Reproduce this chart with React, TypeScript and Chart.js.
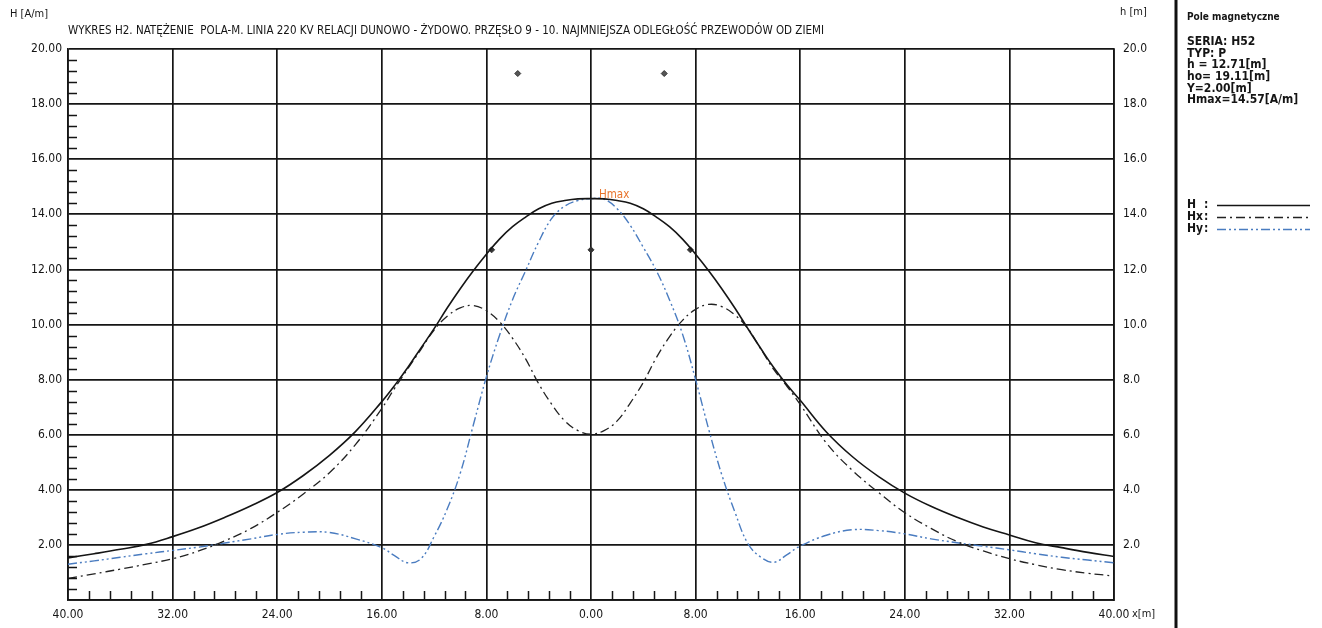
import React, { useEffect, useRef } from "react";
import { Chart, registerables } from "chart.js";
Chart.register(...registerables);

const FONT = "'Liberation Sans Narrow', 'DejaVu Sans Condensed', 'Arial Narrow', sans-serif";

// x positions [m]
const XS = [-40, -38, -36, -34, -32, -30, -28, -26, -24, -22, -20, -18,
  -16, -15, -14, -13, -12, -11, -10, -9, -8, -7, -6, -5, -4, -3, -2, -1, 0,
  1, 2, 3, 4, 5, 6, 7, 8, 9, 10, 11, 12, 13, 14, 15, 16,
  18, 20, 22, 24, 26, 28, 30, 32, 34, 36, 38, 40];

// H [A/m]
const H = [1.53, 1.68, 1.84, 2.02, 2.3, 2.62, 3.0, 3.42, 3.9, 4.52, 5.25, 6.12,
  7.2, 7.8, 8.45, 9.15, 9.85, 10.6, 11.3, 11.95, 12.55, 13.1, 13.55, 13.9, 14.2, 14.4, 14.5, 14.56, 14.57,
  14.56, 14.5, 14.4, 14.2, 13.9, 13.55, 13.1, 12.55, 11.95, 11.3, 10.6, 9.85, 9.12, 8.42, 7.8, 7.25,
  6.1, 5.2, 4.48, 3.88, 3.4, 3.0, 2.65, 2.36, 2.08, 1.9, 1.73, 1.58];

// Hx [A/m]
const HX = [0.78, 0.95, 1.12, 1.3, 1.5, 1.78, 2.15, 2.6, 3.18, 3.85, 4.62, 5.65,
  6.95, 7.7, 8.4, 9.1, 9.8, 10.3, 10.6, 10.69, 10.5, 10.1, 9.5, 8.75, 7.85, 7.1, 6.5, 6.15, 6.02,
  6.15, 6.5, 7.15, 7.9, 8.8, 9.55, 10.15, 10.55, 10.73, 10.65, 10.35, 9.85, 9.1, 8.35, 7.75, 7.1,
  5.7, 4.7, 3.9, 3.17, 2.6, 2.12, 1.78, 1.5, 1.28, 1.1, 0.97, 0.87];

// Hy [A/m]
const HY = [1.3, 1.42, 1.55, 1.68, 1.8, 1.92, 2.07, 2.22, 2.38, 2.46, 2.45, 2.22,
  1.9, 1.6, 1.35, 1.5, 2.3, 3.3, 4.6, 6.35, 8.1, 9.6, 10.9, 11.95, 13.0, 13.85, 14.3, 14.5, 14.57,
  14.55, 14.2, 13.6, 12.8, 11.95, 10.9, 9.65, 8.0, 6.2, 4.55, 3.2, 2.05, 1.55, 1.37, 1.65, 1.96,
  2.35, 2.55, 2.52, 2.4, 2.22, 2.08, 1.95, 1.82, 1.68, 1.55, 1.45, 1.35];

// conductor positions (x [m], h [m])
const COND_X = [-7.6, 0, 7.6];
const COND_H = [12.71, 12.71, 12.71];
const GW_X = [-5.6, 5.6];
const GW_H = [19.11, 19.11];

const HMAX_X = 0;
const HMAX = 14.57;

const TITLE = "WYKRES H2. NATĘŻENIE  POLA-M. LINIA 220 KV RELACJI DUNOWO - ŻYDOWO. PRZĘSŁO 9 - 10. NAJMNIEJSZA ODLEGŁOŚĆ PRZEWODÓW OD ZIEMI";
const INFO_HEAD = "Pole magnetyczne";
const INFO_LINES = ["SERIA: H52", "TYP: P", "h = 12.71[m]", "ho= 19.11[m]", "Y=2.00[m]", "Hmax=14.57[A/m]"];
const LEGEND_NAMES = ["H", "Hx", "Hy"];

const X_TICKS_MIN = -40;
const X_TICKS_MAX = 40;

const DASH_HX = [9, 4, 2, 4];
const DASH_HY = [9, 3, 2, 3, 2, 3];
const BLUE = "#4a7cc0";
const INK = "#151515";

function fitText(ctx: CanvasRenderingContext2D, text: string, x: number, y: number, w: number) {
  const m = ctx.measureText(text).width;
  ctx.save();
  ctx.translate(x, y);
  ctx.scale(w / m, 1);
  ctx.fillText(text, 0, 0);
  ctx.restore();
}

const decorPlugin = {
  id: "decor",
  afterDraw(chart: any) {
    const ctx: CanvasRenderingContext2D = chart.ctx;
    const { left, right, bottom } = chart.chartArea;
    const xs = chart.scales.x;
    const ys = chart.scales.y;
    ctx.save();
    // minor ticks
    ctx.strokeStyle = INK;
    ctx.lineWidth = 1.5;
    ctx.beginPath();
    for (let i = 0; i <= 50; i++) {
      if (i % 5 === 0) continue;
      const py = Math.round(ys.getPixelForValue(i * 0.4)) + 0.5;
      ctx.moveTo(left, py);
      ctx.lineTo(left + 9, py);
    }
    for (let i = 0; i <= 50; i++) {
      if (i % 5 === 0) continue;
      const px = Math.round(xs.getPixelForValue(-40 + i * 1.6)) + 0.5;
      ctx.moveTo(px, bottom);
      ctx.lineTo(px, bottom - 9);
    }
    ctx.stroke();

    // Hmax label
    ctx.fillStyle = "#e8742c";
    ctx.font = `11.5px ${FONT}`;
    ctx.textBaseline = "alphabetic";
    ctx.textAlign = "left";
    ctx.fillText("Hmax", xs.getPixelForValue(HMAX_X) + 8, ys.getPixelForValue(HMAX) - 1);

    // texts
    ctx.fillStyle = INK;
    ctx.font = `11px ${FONT}`;
    ctx.textBaseline = "middle";
    ctx.fillText("H [A/m]", 10, 14);
    ctx.fillText("h [m]", right + 6, 12);
    ctx.fillText("x[m]", right + 18, 614);
    ctx.font = `11.5px ${FONT}`;
    fitText(ctx, TITLE, 68, 31, 756);

    // separator
    ctx.strokeStyle = "#111";
    ctx.lineWidth = 3;
    ctx.beginPath();
    ctx.moveTo(1176, 0);
    ctx.lineTo(1176, 628);
    ctx.stroke();

    // info panel
    ctx.fillStyle = INK;
    ctx.font = `bold 10px ${FONT}`;
    ctx.fillText(INFO_HEAD, 1187, 17);
    ctx.font = `bold 12px ${FONT}`;
    INFO_LINES.forEach((t, i) => ctx.fillText(t, 1187, 42 + i * 11.6));

    // legend
    const dashes = [[], DASH_HX, DASH_HY];
    const colors = [INK, "#222", BLUE];
    LEGEND_NAMES.forEach((n, i) => {
      const y = 205 + i * 12;
      ctx.fillStyle = INK;
      ctx.font = `bold 12px ${FONT}`;
      ctx.fillText(n, 1187, y);
      ctx.fillText(":", 1204, y);
      ctx.strokeStyle = colors[i];
      ctx.lineWidth = i === 0 ? 1.5 : 1.3;
      ctx.setLineDash(dashes[i]);
      ctx.beginPath();
      ctx.moveTo(1217, y + 0.5);
      ctx.lineTo(1310, y + 0.5);
      ctx.stroke();
    });
    ctx.setLineDash([]);
    ctx.restore();
  },
};

export default function App() {
  const ref = useRef<HTMLCanvasElement | null>(null);
  useEffect(() => {
    if (!ref.current) return;
    const pts = (ys: number[]) => XS.map((x, i) => ({ x, y: ys[i] }));
    const chart = new Chart(ref.current, {
      type: "line",
      data: {
        datasets: [
          {
            label: "H",
            data: pts(H),
            borderColor: INK,
            borderWidth: 1.6,
            pointRadius: 0,
            tension: 0.4,
          },
          {
            label: "Hx",
            data: pts(HX),
            borderColor: "#222",
            borderWidth: 1.3,
            borderDash: DASH_HX,
            pointRadius: 0,
            tension: 0.4,
          },
          {
            label: "Hy",
            data: pts(HY),
            borderColor: BLUE,
            borderWidth: 1.4,
            borderDash: DASH_HY,
            pointRadius: 0,
            tension: 0.4,
          },
          {
            label: "cond",
            data: COND_X.map((x, i) => ({ x, y: COND_H[i] })),
            showLine: false,
            pointStyle: "rectRot",
            pointRadius: 3,
            backgroundColor: "#333",
            borderColor: "#333",
            borderWidth: 1,
          },
          {
            label: "gw",
            data: GW_X.map((x, i) => ({ x, y: GW_H[i] })),
            showLine: false,
            pointStyle: "rectRot",
            pointRadius: 3,
            backgroundColor: "#555",
            borderColor: "#333",
            borderWidth: 1,
          },
        ],
      },
      options: {
        animation: false,
        responsive: false,
        events: [],
        layout: { padding: { top: 49, left: 0, right: 0, bottom: 0 } },
        plugins: { legend: { display: false }, tooltip: { enabled: false }, title: { display: false } },
        scales: {
          x: {
            type: "linear",
            min: X_TICKS_MIN,
            max: X_TICKS_MAX,
            afterFit: (s: any) => { s.height = 28; },
            ticks: {
              stepSize: 8,
              autoSkip: false,
              maxRotation: 0,
              padding: 8,
              color: INK,
              font: { family: FONT, size: 12 },
              callback: (v: any) => Math.abs(Number(v)).toFixed(2),
            },
            grid: { color: INK, lineWidth: 1.7, drawTicks: false },
            border: { color: INK, width: 1.7 },
          },
          y: {
            type: "linear",
            position: "left",
            min: 0,
            max: 20,
            afterFit: (s: any) => { s.width = 68; },
            ticks: {
              stepSize: 2,
              padding: 6,
              color: INK,
              font: { family: FONT, size: 12 },
              callback: (v: any) => (Number(v) === 0 ? "" : Number(v).toFixed(2)),
            },
            grid: { color: INK, lineWidth: 1.7, drawTicks: false },
            border: { color: INK, width: 1.7 },
          },
          y2: {
            type: "linear",
            position: "right",
            min: 0,
            max: 20,
            afterFit: (s: any) => { s.width = 208; },
            ticks: {
              stepSize: 2,
              padding: 9,
              color: INK,
              font: { family: FONT, size: 12 },
              callback: (v: any) => (Number(v) === 0 ? "" : Number(v).toFixed(1)),
            },
            grid: { drawOnChartArea: false, drawTicks: false },
            border: { color: INK, width: 1.7 },
          },
        },
      },
      plugins: [decorPlugin],
    } as any);
    return () => chart.destroy();
  }, []);
  return (
    <div style={{ position: "fixed", left: 0, top: 0, width: 1322, height: 628, background: "#fff" }}>
      <canvas ref={ref} width={1322} height={628} style={{ display: "block" }} />
    </div>
  );
}
